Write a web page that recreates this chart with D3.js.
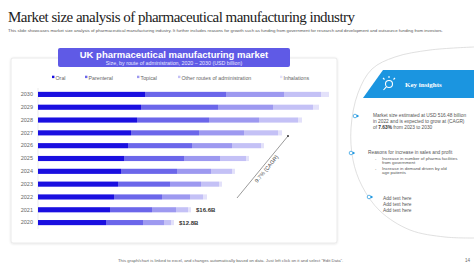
<!DOCTYPE html>
<html lang="en">
<head>
<meta charset="UTF-8">
<script src="https://d3js.org/d3.v7.min.js"></script>
<title>Market size analysis</title>
<style>
  body { margin: 0; background: #fff; }
  svg text { font-family: "Liberation Sans", Arial, sans-serif; }
</style>
</head>
<body>
<div id="chart"></div>
<script>
// ---- data ----
var years = ["2030", "2029", "2028", "2027", "2026", "2025", "2024", "2023", "2022", "2021", "2020"];
var routes = ["Oral", "Parenteral", "Topical", "Other routes of administration", "Inhalations"];
var oral       = [107, 103, 99, 93, 90, 86, 83, 80, 76, 72, 68];
var parenteral = [81, 77, 72, 68, 64, 60, 56, 52, 48, 42, 37];
var topical    = [58, 55, 50, 45, 40, 36, 34, 31, 28, 24, 21];
var other      = [37, 40, 39, 34, 29, 26, 21, 18, 13, 12, 7];
var inhal      = [8, 6, 4, 4, 3, 3, 3, 3, 4, 3, 3];
var totalLabels = [["2021", "$16.6B"], ["2020", "$12.8B"]];

var width = 474, height = 266;
var svg = d3.select("#chart").append("svg").attr("width", width).attr("height", height);

// page header
svg.append("text").attr("x", 8).attr("y", 22)
  .attr("textLength", 347).attr("lengthAdjust", "spacing")
  .style("font-family", "'Liberation Serif', 'Times New Roman', serif")
  .style("font-size", "15px").attr("fill", "#222")
  .text("Market size analysis of pharmaceutical manufacturing industry");
svg.append("text").attr("x", 8).attr("y", 32)
  .attr("textLength", 435).attr("lengthAdjust", "spacingAndGlyphs")
  .style("font-size", "4.3px").attr("fill", "#555")
  .text("This slide showcases market size analysis of pharmaceutical manufacturing industry. It further includes reasons for growth such as funding from government for research and development and outsource funding from investors.");

// chart panel
var defs = svg.append("defs");
var f = defs.append("filter").attr("id", "sh").attr("x", "-5%").attr("y", "-5%").attr("width", "110%").attr("height", "110%");
f.append("feDropShadow").attr("dx", 0).attr("dy", 0.5).attr("stdDeviation", 1).attr("flood-color", "#000").attr("flood-opacity", 0.12);
svg.append("rect").attr("x", 11).attr("y", 58).attr("width", 326).attr("height", 185)
  .attr("rx", 2).attr("fill", "#fff").attr("stroke", "#e4e4e4").attr("stroke-width", 0.8)
  .attr("filter", "url(#sh)");

// chart title box
svg.append("rect").attr("x", 58).attr("y", 48).attr("width", 232).attr("height", 19)
  .attr("rx", 2).attr("fill", "#5f5ae6");
svg.append("text").attr("x", 174).attr("y", 58).attr("text-anchor", "middle")
  .style("font-size", "9.5px").style("font-weight", "bold").attr("fill", "#fff")
  .text("UK pharmaceutical manufacturing market");
svg.append("text").attr("x", 174).attr("y", 64.5).attr("text-anchor", "middle")
  .style("font-size", "5.3px").attr("fill", "#e8e8ff")
  .text("Size, by route of administration, 2020 \u2013 2030 (USD billion)");

// scales
var colors = ["#1a0fe0", "#6b66ea", "#9d99f0", "#c4c1f6", "#e3e1fa"];
var color = d3.scaleOrdinal().domain(routes).range(colors);
var x = d3.scaleLinear().domain([0, 300]).range([38, 338]);
var y = d3.scaleBand().domain(years).range([88, 229]).paddingInner(0.6).paddingOuter(0.3);

var rows = years.map(function (yr, i) {
  return { year: yr, "Oral": oral[i], "Parenteral": parenteral[i], "Topical": topical[i],
    "Other routes of administration": other[i], "Inhalations": inhal[i] };
});
var series = d3.stack().keys(routes)(rows);

// legend
var legendX = [52, 85, 137, 178, 280];
var lg = svg.append("g").selectAll("g").data(routes).enter().append("g")
  .attr("transform", function (d, i) { return "translate(" + legendX[i] + ",78)"; });
lg.append("rect").attr("x", 0).attr("y", -2.3).attr("width", 2.4).attr("height", 2.4)
  .attr("fill", function (d) { return color(d); });
lg.append("text").attr("x", 3.5).attr("y", 1.6).style("font-size", "5.3px").attr("fill", "#666")
  .text(function (d) { return d; });

// axis line
svg.append("line").attr("x1", 38).attr("x2", 38).attr("y1", 88).attr("y2", 229)
  .attr("stroke", "#e0e0e0").attr("stroke-width", 0.6);

// y axis labels
var yAxis = d3.axisLeft(y).tickSize(0).tickPadding(5);
var ya = svg.append("g").attr("transform", "translate(38,0)").call(yAxis);
ya.select(".domain").remove();
ya.selectAll("text").style("font-size", "5.5px").attr("fill", "#666")
  .style("font-family", "'Liberation Sans', Arial, sans-serif");

// bars
svg.append("g").selectAll("g").data(series).enter().append("g")
  .attr("fill", function (d) { return color(d.key); })
  .selectAll("rect").data(function (d) { return d; }).enter().append("rect")
  .attr("x", function (d) { return x(d[0]); })
  .attr("width", function (d) { return x(d[1]) - x(d[0]); })
  .attr("y", function (d) { return y(d.data.year); })
  .attr("height", y.bandwidth());

// total labels
var totals = {};
rows.forEach(function (r) { totals[r.year] = d3.sum(routes, function (k) { return r[k]; }); });
svg.append("g").selectAll("text").data(totalLabels).enter().append("text")
  .attr("x", function (d) { return x(totals[d[0]]) + 5; })
  .attr("y", function (d) { return y(d[0]) + y.bandwidth() / 2 + 2; })
  .style("font-size", "6px").style("font-weight", "bold").attr("fill", "#333")
  .text(function (d) { return d[1]; });

// CAGR arrow
svg.append("line").attr("x1", 237).attr("y1", 198).attr("x2", 288).attr("y2", 136)
  .attr("stroke", "#555").attr("stroke-width", 0.6);
svg.append("circle").attr("cx", 288).attr("cy", 136).attr("r", 1).attr("fill", "#333");
svg.append("text").attr("transform", "translate(268,170) rotate(-50.5)")
  .attr("text-anchor", "middle").style("font-size", "5.5px").attr("fill", "#444")
  .text("9.7% (CAGR)");

// right panel: curved outline
var arcPts = [[474, 47], [430, 50], [395, 57], [372, 69], [358, 93], [351, 128], [353, 160],
  [362, 186], [380, 211], [410, 230], [445, 237], [474, 238]];
svg.append("path").attr("d", d3.line().curve(d3.curveCatmullRom)(arcPts))
  .attr("fill", "none").attr("stroke", "#d8d8d8").attr("stroke-width", 0.8);

// key insights banner
svg.append("path").attr("d", "M383,70 L474,70 L474,98 L363,98 Z").attr("fill", "#1b95e0");
var icon = svg.append("g").attr("transform", "translate(388,84)")
  .attr("fill", "none").attr("stroke", "#fff").attr("stroke-width", 1.1);
icon.append("circle").attr("cx", 1).attr("cy", 0).attr("r", 3.5);
icon.append("line").attr("x1", -1.5).attr("y1", 2.6).attr("x2", -4.5).attr("y2", 6);
icon.append("path").attr("d", "M1,-6 L1,-8 M-3.5,-4.5 L-5,-6 M5.5,-4.5 L7,-6");
svg.append("text").attr("x", 405).attr("y", 87)
  .style("font-family", "'Liberation Serif', 'Times New Roman', serif")
  .style("font-size", "7px").style("font-weight", "bold").attr("fill", "#fff")
  .text("Key insights");

// bullets on arc
var bullets = [[355, 116], [351, 153], [369, 197]];
bullets.forEach(function (b) {
  svg.append("circle").attr("cx", b[0]).attr("cy", b[1]).attr("r", 1.8)
    .attr("fill", "#fff").attr("stroke", "#1b95e0").attr("stroke-width", 0.7);
  svg.append("path").attr("d", "M" + (b[0] + 1.8) + "," + (b[1] - 1.5) + " l2.4,1.5 l-2.4,1.5 z")
    .attr("fill", "#1b95e0");
});

function lines(xp, y0, dy, arr, size) {
  var t = svg.append("text").style("font-size", size + "px").attr("fill", "#555");
  arr.forEach(function (s, i) {
    t.append("tspan").attr("x", xp).attr("y", y0 + i * dy).text(s);
  });
  return t;
}
var t1 = svg.append("text").style("font-size", "4.8px").attr("fill", "#555");
t1.append("tspan").attr("x", 373).attr("y", 117).text("Market size estimated at USD 516.48 billion");
t1.append("tspan").attr("x", 373).attr("y", 123).text("in 2022 and is expected to grow at (CAGR)");
var l3 = t1.append("tspan").attr("x", 373).attr("y", 129);
l3.text("of ");
t1.append("tspan").style("font-weight", "bold").attr("fill", "#333").text("7.63%");
t1.append("tspan").text(" from 2023 to 2030");

lines(368, 154, 5, ["Reasons for increase in sales and profit"], 4.8);
lines(375, 159.5, 5, ["-"], 4.4);
lines(382, 159.5, 4.5, ["Increase in number of pharma facilities", "from government"], 4.4);
lines(375, 169.5, 5, ["-"], 4.4);
lines(382, 169.5, 4.5, ["Increase in demand driven by old", "age patients"], 4.4);
lines(383, 200, 5.8, ["Add text here", "Add text here", "Add text here"], 4.8);

// footer
svg.append("text").attr("x", 118).attr("y", 262)
  .style("font-size", "4.3px").attr("fill", "#666")
  .text("This graph/chart is linked to excel, and changes automatically based on data. Just left click on it and select \u201CEdit Data\u201D.");
svg.append("text").attr("x", 465).attr("y", 262)
  .style("font-size", "4.5px").attr("fill", "#666").text("14");
</script>
</body>
</html>
